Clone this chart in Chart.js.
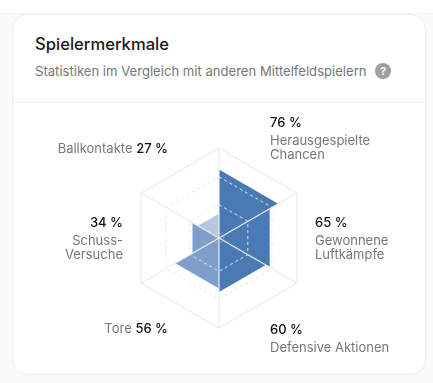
<!DOCTYPE html>
<html lang="de">
<head>
<meta charset="utf-8">
<title>Spielermerkmale</title>
<script src="https://cdn.jsdelivr.net/npm/chart.js@4"></script>
<style>
html, body { margin: 0; padding: 0; width: 433px; height: 383px; overflow: hidden; background: #fff; font-family: Inter, sans-serif; }
#page { position: absolute; left: 0; top: 13px; width: 433px; height: 370px; background: #fafafa; border-top: 1px solid #f3f3f3; box-sizing: border-box; }
#card { position: absolute; left: 12px; top: 14px; width: 414px; height: 361px; background: #fff; border: 1px solid #eeeeee; border-radius: 15px; box-sizing: border-box; }
#title { position: absolute; left: 35px; top: 34px; font-size: 16.6px; font-weight: 500; color: #1a1a1a; line-height: 20px; white-space: nowrap; }
#subtitle { position: absolute; left: 35px; top: 63px; font-size: 13.1px; color: #777; line-height: 16px; white-space: nowrap; }
#help { position: absolute; left: 375px; top: 63px; width: 16px; height: 16px; border-radius: 50%; background: #9e9e9e; color: #fff; font-size: 11px; font-weight: 700; line-height: 16px; text-align: center; }
#divider { position: absolute; left: 13px; top: 102px; width: 412px; height: 1px; background: #f0f0f0; }
#chartBox { position: absolute; left: 119px; top: 138px; width: 200px; height: 200px; }
.lbl { position: absolute; font-size: 13px; line-height: 14px; color: #777; white-space: nowrap; }
.lbl b { font-weight: 500; color: #111; }
.lbl .val { display: block; margin-bottom: 4px; }
.right { text-align: right; }
</style>
</head>
<body>
<div id="page"></div>
<div id="card"></div>
<div id="title">Spielermerkmale</div>
<div id="subtitle">Statistiken im Vergleich mit anderen Mittelfeldspielern</div>
<div id="help">?</div>
<div id="divider"></div>
<div id="chartBox"><canvas id="myChart"></canvas></div>

<div class="lbl" id="l0" style="left:270px; top:115px"></div>
<div class="lbl" id="l1" style="left:315px; top:215px"></div>
<div class="lbl" id="l2" style="left:270px; top:322px"></div>
<div class="lbl right" id="l3" style="right:265px; top:321px"></div>
<div class="lbl right" id="l4" style="right:310px; top:215px"></div>
<div class="lbl right" id="l5" style="right:265px; top:141px"></div>

<script>
// starting at the top spoke, going clockwise
var categories = ['Herausgespielte\nChancen', 'Gewonnene\nLuftkämpfe', 'Defensive Aktionen', 'Tore', 'Schuss-\nVersuche', 'Ballkontakte'];
var percentValues = [76, 65, 60, 56, 34, 27];
var sectorColors = ['#4a7ab5', '#4a7ab5', '#4a7ab5', '#7e9fca', '#7e9fca', '#b5c8e0'];
var gridLevels = [0, 6, 37, 68, 100];

// labels are plain html next to the canvas
categories.forEach(function (name, i) {
    var el = document.getElementById('l' + i);
    var value = percentValues[i] + ' %';
    if (name.indexOf('\n') >= 0 || i === 2) {
        el.innerHTML = '<b class="val">' + value + '</b>' + name.replace('\n', '<br>');
    } else {
        el.innerHTML = name + ' <b>' + value + '</b>';
    }
});

// one dataset per sector, it only has a value on its two spokes
var datasets = percentValues.map(function (value, i) {
    var data = categories.map(function () { return 0; });
    data[i] = value;
    data[(i + 1) % categories.length] = value;
    return {
        data: data,
        backgroundColor: sectorColors[i],
        borderWidth: 0,
        pointRadius: 0,
        fill: 'origin'
    };
});

var ctx = document.getElementById('myChart').getContext('2d');
var myRadar = new Chart(ctx, {
    type: 'radar',
    data: {
        labels: categories,
        datasets: datasets
    },
    options: {
        responsive: true,
        maintainAspectRatio: false,
        animation: false,
        layout: { padding: 10 },
        plugins: {
            legend: { display: false },
            tooltip: { enabled: false }
        },
        scales: {
            r: {
                min: 0,
                max: 100,
                afterBuildTicks: function (scale) {
                    scale.ticks = gridLevels.map(function (v) { return { value: v }; });
                },
                ticks: { display: false },
                pointLabels: { display: false },
                angleLines: { color: '#ebebeb', lineWidth: 1.2 },
                grid: {
                    z: 1,
                    lineWidth: function (c) { return c.tick.value === 100 ? 1.2 : 1; },
                    color: function (c) {
                        if (c.tick.value === 100) return '#ebebeb';
                        // the smallest ring is barely visible in the original
                        return c.tick.value === 6 ? 'rgba(255,255,255,0.35)' : '#e6e6e6';
                    }
                },
                border: {
                    dash: function (c) { return c.tick.value === 100 ? [] : [3, 3]; }
                }
            }
        }
    }
});
</script>
</body>
</html>
